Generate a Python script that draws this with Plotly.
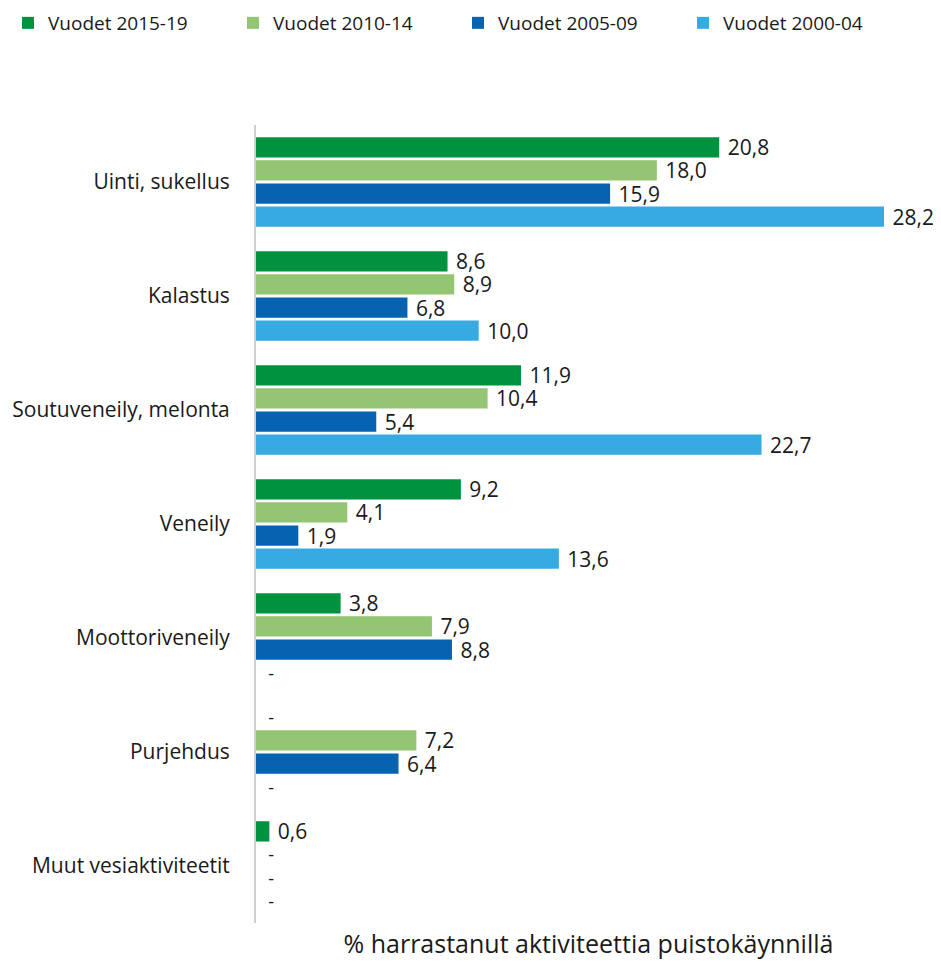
import plotly.graph_objects as go

categories = ["Uinti, sukellus", "Kalastus", "Soutuveneily, melonta", "Veneily",
              "Moottoriveneily", "Purjehdus", "Muut vesiaktiviteetit"]
series = ["Vuodet 2015-19", "Vuodet 2010-14", "Vuodet 2005-09", "Vuodet 2000-04"]
v2015 = [20.8, 8.6, 11.9, 9.2, 3.8, None, 0.6]
v2010 = [18.0, 8.9, 10.4, 4.1, 7.9, 7.2, None]
v2005 = [15.9, 6.8, 5.4, 1.9, 8.8, 6.4, None]
v2000 = [28.2, 10.0, 22.7, 13.6, None, None, None]
colors = ["#00923F", "#93C572", "#0563B1", "#36AAE1"]

fig = go.Figure()
for name, vals, col in zip(series, [v2015, v2010, v2005, v2000], colors):
    x = [v if v is not None else 0 for v in vals]
    txt = [" " + f"{v:.1f}".replace(".", ",") if v is not None else "  -" for v in vals]
    sizes = [21 if v is not None else 18 for v in vals]
    fig.add_trace(go.Bar(
        y=categories, x=x, name=name, orientation="h",
        marker=dict(color=col, line=dict(width=0)),
        text=txt, textposition="outside", cliponaxis=False, constraintext="none",
        textfont=dict(size=sizes, color="#1a1a1a"),
        hoverinfo="skip",
    ))

fig.update_layout(
    width=933, height=955,
    barmode="group", bargap=0.19, bargroupgap=0.12,
    plot_bgcolor="white", paper_bgcolor="white",
    font=dict(family="Open Sans, Noto Sans, sans-serif", size=18, color="#1a1a1a"),
    margin=dict(l=248, r=20, t=117, b=40, autoexpand=False),
    legend=dict(orientation="h", x=-248 / 665, xanchor="left",
                y=1 + 121 / 798, yanchor="top",
                entrywidth=180, entrywidthmode="pixels",
                font=dict(size=19), itemwidth=30, tracegroupgap=0),
)
fig.update_xaxes(range=[0, 29.86], showticklabels=False, showgrid=False, zeroline=False,
                 showline=False, ticks="", automargin=False,
                 title=dict(text="% harrastanut aktiviteettia puistokäynnillä",
                            font=dict(size=25), standoff=12))
fig.update_yaxes(autorange="reversed", showline=True, linecolor="#d0d0d0", linewidth=2,
                 ticks="", showgrid=False, ticklabelstandoff=20, tickfont=dict(size=21),
                 automargin=False)

fig.write_html("out.html")
